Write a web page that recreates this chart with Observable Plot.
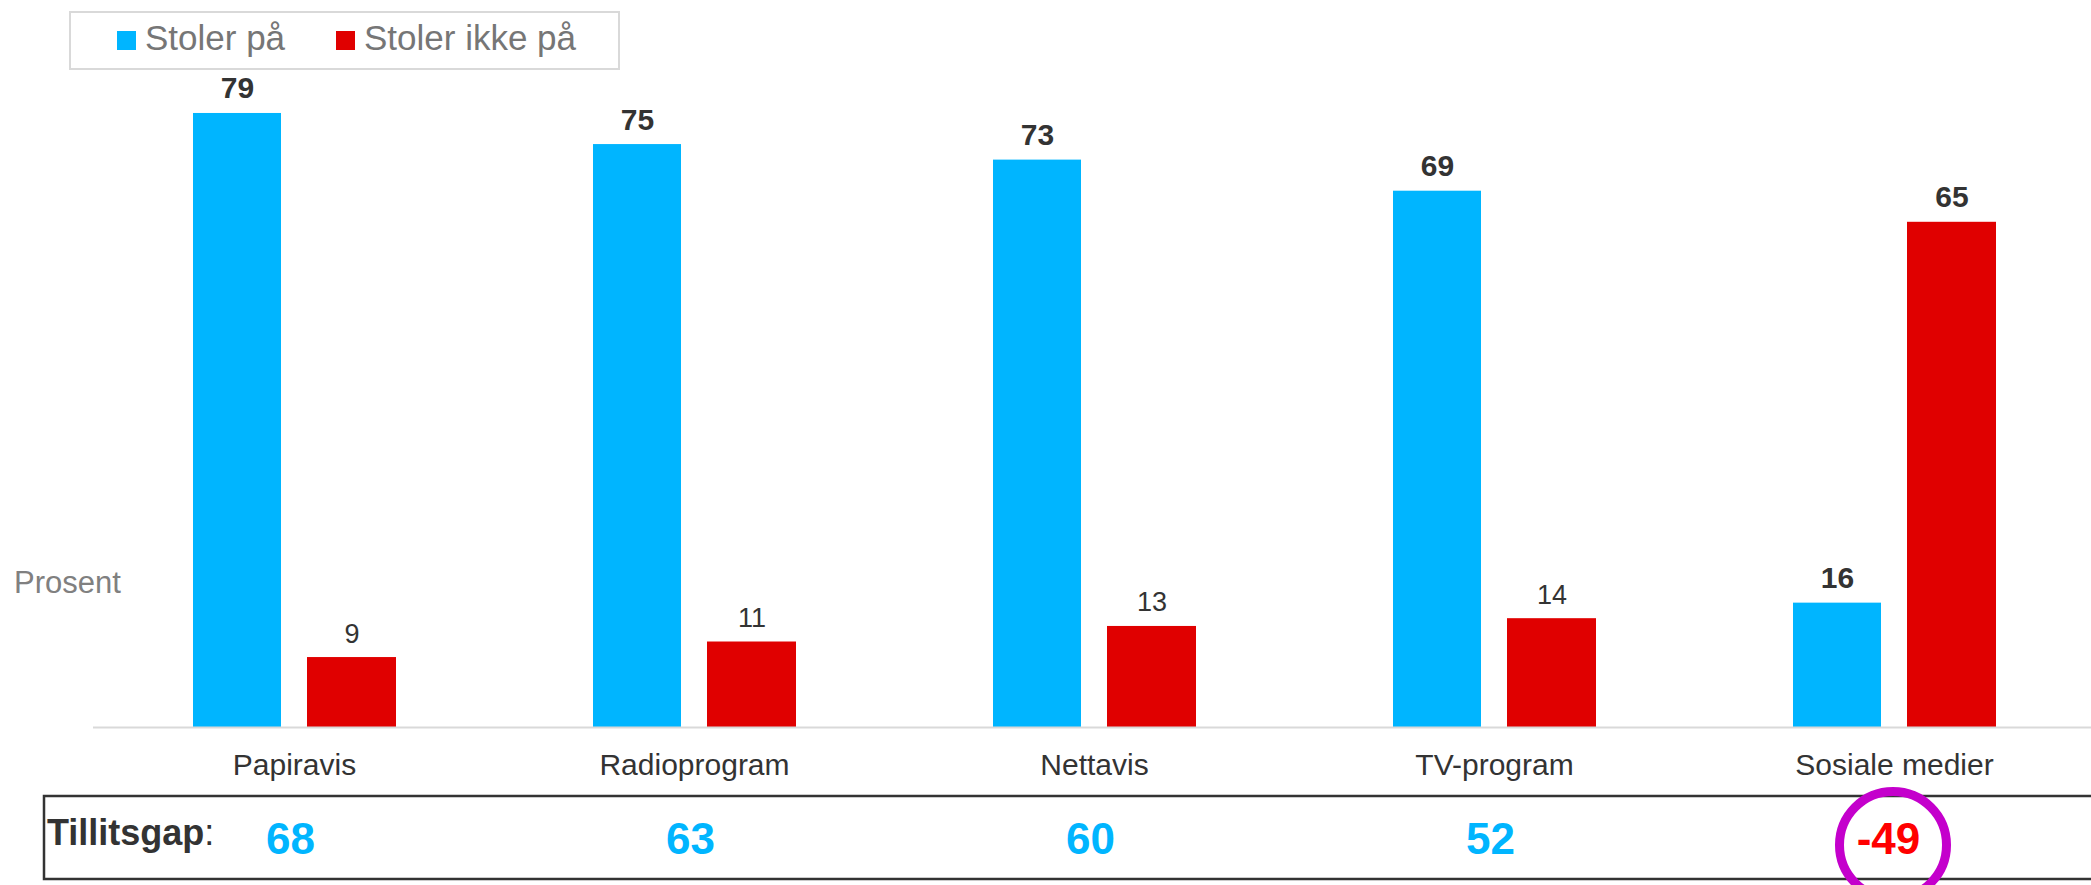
<!DOCTYPE html>
<html><head><meta charset="utf-8">
<script src="https://cdn.jsdelivr.net/npm/d3@7"></script>
<script src="https://cdn.jsdelivr.net/npm/@observablehq/plot@0.6"></script>
<style>
body{margin:0;background:#fff;}
#wrap{position:relative;width:2091px;height:885px;overflow:hidden;font-family:"Liberation Sans",Arial,sans-serif;}
#wrap > svg{position:absolute;left:0;top:0;}
</style></head><body><div id="wrap"></div>
<script>
const categories = ["Papiravis", "Radioprogram", "Nettavis", "TV-program", "Sosiale medier"];
const series = ["Stoler på", "Stoler ikke på"];
const trust = [79, 75, 73, 69, 16];
const distrust = [9, 11, 13, 14, 65];
const gap = [68, 63, 60, 52, -49];
const gapTitle = "Tillitsgap";
const yLabel = "Prosent";
const colors = ["#00b5ff", "#e00000"];

const blueRows = categories.map((c, i) => ({category: c, value: trust[i], bold: true}));
const redRows = categories.map((c, i) => ({category: c, value: distrust[i], bold: distrust[i] > trust[i]}));
const gapRows = categories.map((c, i) => ({category: c, gap: gap[i]}));
const FONT = "Liberation Sans, Arial, sans-serif";

const chart = Plot.plot({
  width: 2091,
  height: 885,
  marginTop: 105.2,
  marginBottom: 158,
  marginLeft: 93,
  marginRight: 0,
  style: {fontFamily: FONT, color: "#333", background: "transparent"},
  x: {domain: categories, range: [94, 2094], padding: 0},
  y: {domain: [0, 80], axis: null},
  marks: [
    Plot.barY(blueRows, {x: "category", y: "value", fill: colors[0], insetLeft: 99, insetRight: 213}),
    Plot.barY(redRows, {x: "category", y: "value", fill: colors[1], insetLeft: 213, insetRight: 98}),
    Plot.ruleY([0], {stroke: "#d9d9d9", strokeWidth: 2}),
    Plot.text(blueRows.filter(d => d.bold), {x: "category", y: "value", text: d => String(d.value), dx: -57, dy: -15, lineAnchor: "bottom", fontSize: 30, fontWeight: "bold", fill: "#333"}),
    Plot.text(blueRows.filter(d => !d.bold), {x: "category", y: "value", text: d => String(d.value), dx: -57, dy: -15, lineAnchor: "bottom", fontSize: 27, fill: "#333"}),
    Plot.text(redRows.filter(d => d.bold), {x: "category", y: "value", text: d => String(d.value), dx: 57.5, dy: -15, lineAnchor: "bottom", fontSize: 30, fontWeight: "bold", fill: "#333"}),
    Plot.text(redRows.filter(d => !d.bold), {x: "category", y: "value", text: d => String(d.value), dx: 57.5, dy: -15, lineAnchor: "bottom", fontSize: 27, fill: "#333"}),
    Plot.axisX({tickSize: 0, tickPadding: 26, fontSize: 30, label: null, fill: "#333"}),
    Plot.text(gapRows.filter(d => d.gap >= 0), {x: "category", text: d => String(d.gap), frameAnchor: "bottom", dy: 112, dx: -4, lineAnchor: "middle", fontSize: 44, fontWeight: "bold", fill: colors[0]}),
    Plot.text(gapRows.filter(d => d.gap < 0), {x: "category", text: d => String(d.gap), frameAnchor: "bottom", dy: 112, dx: -6, lineAnchor: "middle", fontSize: 44, fontWeight: "bold", fill: "#ff0000"})
  ]
});
const wrap = document.getElementById("wrap");
wrap.appendChild(chart);

// decorations: legend, table box, labels, highlight ring
const deco = d3.select(wrap).append("svg").attr("width", 2091).attr("height", 885)
  .style("font-family", FONT);
deco.append("rect").attr("x", 70).attr("y", 12).attr("width", 549).attr("height", 57)
  .attr("fill", "none").attr("stroke", "#d9d9d9").attr("stroke-width", 2);
const legX = [117, 336];
series.forEach((s, i) => {
  deco.append("rect").attr("x", legX[i]).attr("y", 31).attr("width", 19).attr("height", 19).attr("fill", colors[i]);
  deco.append("text").attr("x", legX[i] + 28).attr("y", 50).attr("font-size", 35).attr("fill", "#767676").text(s);
});
deco.append("text").attr("x", 14).attr("y", 593).attr("font-size", 31).attr("fill", "#808080").text(yLabel);
deco.append("rect").attr("x", 44).attr("y", 796).attr("width", 2100).attr("height", 83)
  .attr("fill", "none").attr("stroke", "#333").attr("stroke-width", 2.5);
const tg = deco.append("text").attr("x", 47).attr("y", 845).attr("font-size", 36).attr("fill", "#333");
tg.append("tspan").attr("font-weight", "bold").text(gapTitle);
tg.append("tspan").text(":");
// ring around negative gap
const xs = d3.scaleBand().domain(categories).range([94, 2094]);
gapRows.filter(d => d.gap < 0).forEach(d => {
  deco.append("circle").attr("cx", xs(d.category) + xs.bandwidth() / 2 - 1).attr("cy", 845).attr("r", 53.5)
    .attr("fill", "none").attr("stroke", "#c400cc").attr("stroke-width", 9);
});
</script></body></html>
